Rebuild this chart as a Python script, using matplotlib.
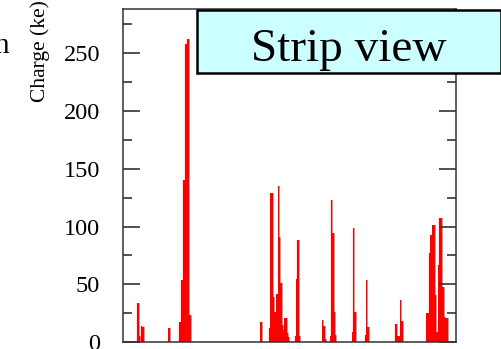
import numpy as np
import matplotlib.pyplot as plt
from matplotlib.patches import Rectangle

plt.rcParams['font.family'] = ['Liberation Serif', 'DejaVu Serif']

n_strips = 256
hit_strips = [11, 12, 14, 15, 35,
              43, 44, 45, 46, 47, 48, 49, 50, 51,
              105, 106,
              112, 113, 114, 115, 116, 117, 118, 119, 120, 121, 122, 123, 124, 125, 126, 127,
              132, 133, 134, 135,
              153, 154, 155,
              159, 160, 161, 162, 163,
              176, 177, 178,
              186, 187, 188,
              209, 210, 211, 212, 213, 214,
              233, 234, 235, 236, 237, 238, 239, 240, 241, 242, 243, 244, 245, 246, 247, 248, 249]
hit_charge = [34, 5, 14, 13, 12,
              17, 17, 54, 140, 140, 258, 262, 262, 23,
              17, 17,
              12, 129, 129, 39, 26, 26, 42, 135, 91, 51, 15, 10, 21, 21, 8, 4,
              5, 55, 88, 5,
              19, 14, 3,
              5, 123, 94, 26, 6,
              9, 99, 26,
              6, 54, 13,
              16, 16, 5, 5, 36, 18,
              25, 25, 77, 93, 93, 101, 101, 41, 9, 67, 107, 107, 48, 48, 22, 21, 21]
y_ticks = [0, 50, 100, 150, 200, 250]

charge = np.zeros(n_strips)
charge[hit_strips] = hit_charge
edges = np.arange(n_strips + 1)

fig = plt.figure(figsize=(5.02, 3.49), dpi=100)
ax = fig.add_axes([0.245, 0.020, 0.663, 0.953])

ax.stairs(charge, edges, fill=True, color='red', lw=0)
ax.stairs(charge, edges, color='red', lw=0.6, alpha=0.6)
ax.axhline(0, color='#b03030', lw=0.8)
ax.set_xlim(0, n_strips)
ax.set_ylim(0, 288)

ax.set_xticks([])
ax.set_yticks(y_ticks)
ax.set_yticks(np.arange(25, 288, 50), minor=True)
ax.tick_params(axis='y', which='both', direction='in', left=True, right=True,
               width=1.2, color='#333333', labelsize=17.5, pad=16.5)
ax.tick_params(axis='y', which='major', length=12)
ax.tick_params(axis='y', which='minor', length=6.5)
for s in ax.spines.values():
    s.set_color('#333333')
    s.set_linewidth(1.1)

fig.text(40/502, 1 - 51/349, 'Charge (ke)', rotation=90, ha='center', va='center', fontsize=15.5)
fig.text(9/502, 1 - 53/349, 'n', ha='right', va='baseline', fontsize=21)

# title box
fig.patches.append(Rectangle((197/502, 1 - 73/349), 304/502, 63/349, transform=fig.transFigure,
                             facecolor='#ccffff', edgecolor='black', lw=1.8, zorder=5))
fig.text(349/502, 1 - 61/349, 'Strip view', ha='center', va='baseline', fontsize=34, zorder=6)

fig.savefig('out.png')
